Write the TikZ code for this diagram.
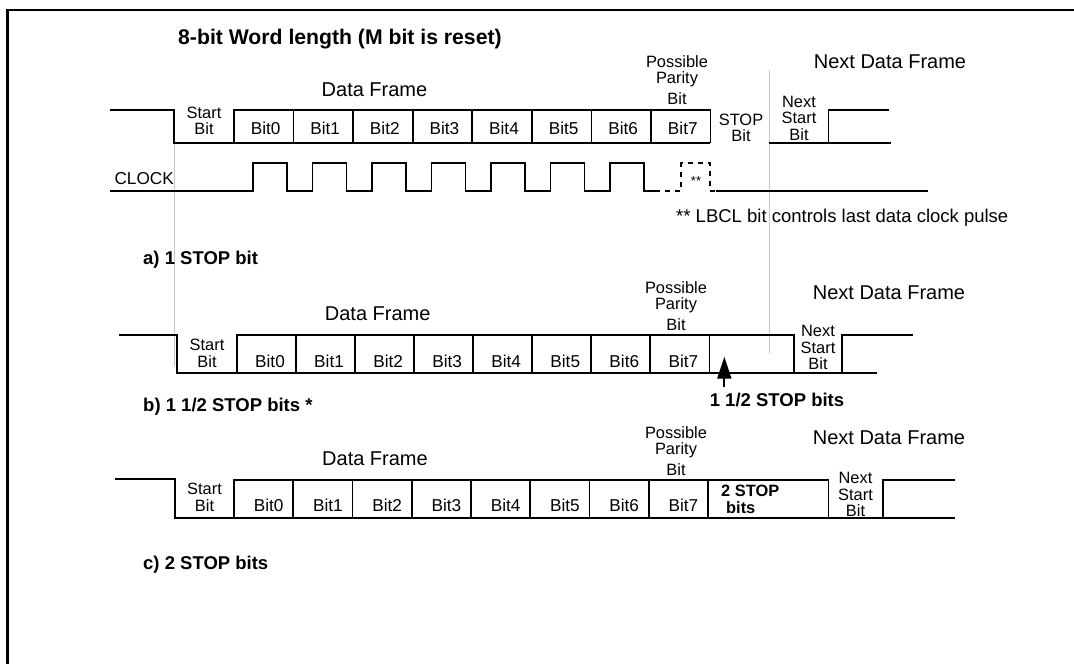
\documentclass[tikz,border=0pt]{standalone}
\usepackage{fontspec}
\setmainfont{Liberation Sans}
\usetikzlibrary{arrows.meta}
\begin{document}
\begin{tikzpicture}[
x = 1pt, y = -1pt,
sig/.style = {line width=1.8pt},
divider/.style = {line width=0.9pt, gray!45},
celltxt/.style = {inner sep=0pt, align=center, font=\fontsize{17.2}{17.5}\selectfont},
multitxt/.style = {inner sep=0pt, align=center, font=\fontsize{16.4}{16.5}\selectfont},
bigtxt/.style = {inner sep=0pt, font=\fontsize{20}{22}\selectfont},
boldtxt/.style = {inner sep=0pt, font=\bfseries\fontsize{18.5}{20}\selectfont}
]
\useasboundingbox (0,0) rectangle (1074,664);
% frame of the figure
\draw[line width=2.5pt] (7.5,664) -- (7.5,10) -- (1074,10);
\node[inner sep=0pt, anchor=west, font=\bfseries\fontsize{21.2}{23}\selectfont] (title) at (178,39.5) {8-bit Word length (M bit is reset)};

% a) 1 STOP bit
\draw[divider] (174,143) -- (174,367);
\draw[divider] (769,70) -- (769,353);
\draw[sig] (110,110) -- (174,110) -- (174,143) -- (710.4,143);
\draw[sig] (233.8,143) -- (233.8,110) -- (710.4,110) -- (710.4,143);
\foreach \i in {1,...,7} \draw[sig] (233.8+59.6*\i,110) -- (233.8+59.6*\i,143);
\draw[sig] (769,143) -- (891,143);
\draw[sig] (828.4,143) -- (828.4,110) -- (889,110);
\node[bigtxt] (aframe) at (374.5,90) {Data Frame};
\node[multitxt] (aparity) at (677,80) {Possible\\Parity\\[4pt]Bit};
\node[bigtxt] (anext) at (890,61.5) {Next Data Frame};
\node[multitxt] (astart) at (204,121) {Start\\Bit};
\foreach \i in {0,...,7} \node[celltxt] (abit\i) at (265.6+59.6*\i,128) {Bit\i};
\node[multitxt] (astop) at (741,128) {STOP\\Bit};
\node[multitxt] (anextstart) at (799,118) {Next\\Start\\Bit};
\node[celltxt, anchor=east] (clock) at (174,179) {CLOCK};
% clock pulses
\draw[sig] (110,190.7) foreach \k in {0,...,6} {
  -- (253+59.5*\k,190.7) -- ++(0,-27.4) -- ++(34,0) -- ++(0,27.4) } -- (655,190.7);
\draw[sig, dash pattern=on 5pt off 5pt] (655,190.7) -- (681,190.7) -- (681,163.3) -- (710,163.3) -- (710,190.7) -- (716,190.7);
\draw[sig] (716,190.7) -- (928,190.7);
\node[inner sep=0pt, font=\fontsize{13}{13}\selectfont] (lastclk) at (696,181) {**};
\node[inner sep=0pt, anchor=west, font=\fontsize{18.5}{20}\selectfont] (lbcl) at (676,217.5) {** LBCL bit controls last data clock pulse};
\node[boldtxt, anchor=west] (labela) at (143,260) {a) 1 STOP bit};

% b) 1 1/2 STOP bits
\draw[sig] (118.8,335) -- (177.3,335) -- (177.3,373) -- (877,373);
\draw[sig] (237,373) -- (237,335) -- (793.7,335) -- (793.7,373);
\foreach \i in {1,...,8} \draw[sig] (237+59.05*\i,335) -- (237+59.05*\i,373);
\draw[sig] (842.3,373) -- (842.3,335) -- (913.4,335);
\node[bigtxt] (bframe) at (377.7,313.3) {Data Frame};
\node[multitxt] (bparity) at (676,306) {Possible\\Parity\\[4pt]Bit};
\node[bigtxt] (bnext) at (889,292.5) {Next Data Frame};
\node[multitxt] (bstart) at (207,353.5) {Start\\Bit};
\foreach \i in {0,...,7} \node[celltxt] (bbit\i) at (270+59.05*\i,361) {Bit\i};
\node[multitxt] (bnextstart) at (818,347.5) {Next\\Start\\Bit};
\node[boldtxt] (halfstop) at (777,399.5) {1 1/2 STOP bits};
\coordinate (stoptip) at (724.3,356.7);
\coordinate (stoptail) at (724.3,387);
\draw[line width=2pt, -{Triangle[length=22pt,width=14pt]}] (stoptail) -- (stoptip);
\node[boldtxt, anchor=west] (labelb) at (143,406.5) {b) 1 1/2 STOP bits *};

% c) 2 STOP bits
\draw[sig] (115.4,479.3) -- (175,479.3) -- (175,518) -- (883,518);
\draw[sig] (234,518) -- (234,480) -- (828.4,480) -- (828.4,518);
\foreach \i in {1,...,8} \draw[sig] (234+59.25*\i,480) -- (234+59.25*\i,518);
\draw[sig] (883,518) -- (883,480) -- (955,480);
\draw[sig] (883,518) -- (955,518);
\node[bigtxt] (cframe) at (375,458.3) {Data Frame};
\node[multitxt] (cparity) at (676,451) {Possible\\Parity\\[4pt]Bit};
\node[bigtxt] (cnext) at (889,437.4) {Next Data Frame};
\node[multitxt] (cstart) at (204.5,497.5) {Start\\Bit};
\foreach \i in {0,...,7} \node[celltxt] (cbit\i) at (268.6+59.25*\i,505) {Bit\i};
\node[multitxt, anchor=west, align=left, font=\bfseries\fontsize{16.4}{16.5}\selectfont] (twostop) at (721,499.5) {2 STOP\\\hspace{5pt}bits};
\node[multitxt] (cnextstart) at (855.5,494.5) {Next\\Start\\Bit};
\node[boldtxt, anchor=west] (labelc) at (143,565) {c) 2 STOP bits};
\end{tikzpicture}
\end{document}
